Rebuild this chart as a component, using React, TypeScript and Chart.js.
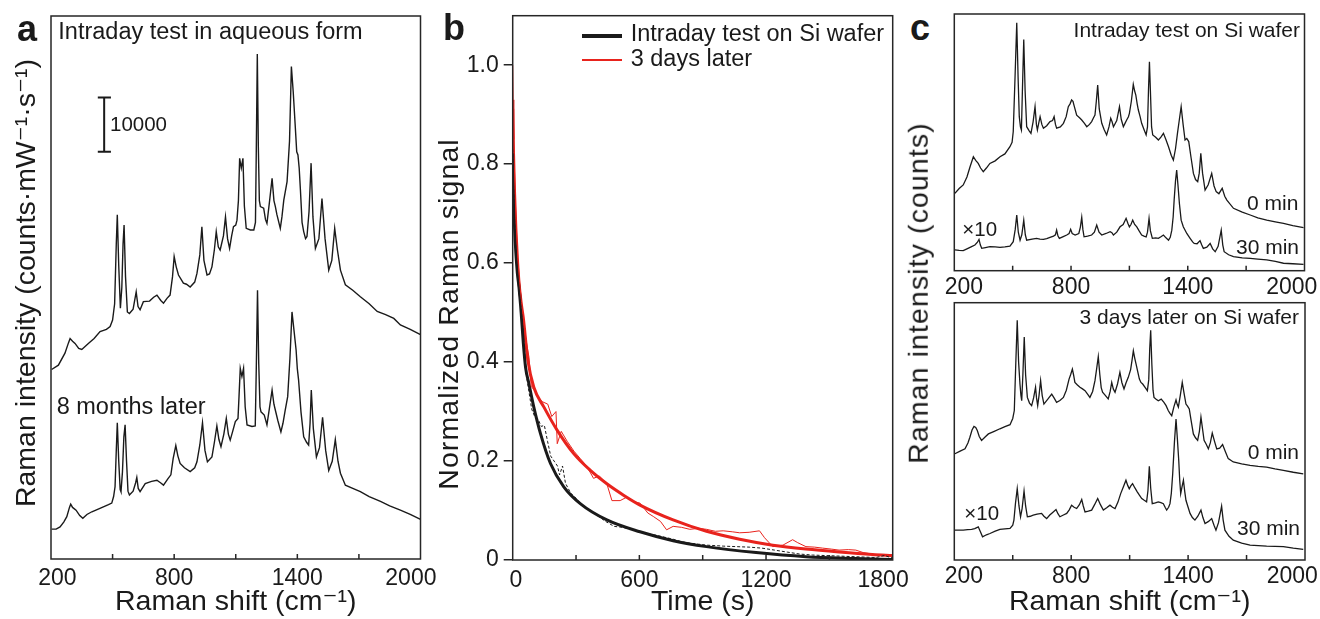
import React, { useEffect, useRef } from 'react';
import Chart from 'chart.js/auto';

const FONT = "'Liberation Sans', Arial, 'DejaVu Sans', sans-serif";
const INK = '#1a1a1a';
const FRAME = '#262626';
const RED = '#e8231d';

// ---------- Panel a : Raman spectra in aqueous form ----------
const SHIFT_TICKS = [200, 500, 800, 1100, 1400, 1700, 2000];
const SHIFT_LABELS = [200, 800, 1400, 2000];

const aIntraday: [number, number][] = [
  [203,34.9],[236,35.7],[268,37.9],[285,39.8],[293,40.6],[305,40.1],[317,39.7],[335,38.8],[350,38.6],[382,39.7],[410,40.6],[439,41.9],[470,42.3],[488,42.8],[500,44.0],[510,47.0],[518,58.0],[523,63.4],[530,54.0],[538,46.2],[545,50.0],[551,58.0],[556,61.5],[563,52.0],[572,45.5],[582,45.2],[600,46.0],[615,49.2],[624,46.5],[634,45.9],[650,47.4],[680,47.5],[700,48.2],[716,48.6],[735,47.6],[748,47.1],[765,48.0],[780,48.6],[792,52.0],[800,55.7],[810,53.8],[821,52.3],[845,50.8],[860,50.6],[878,50.1],[900,51.0],[911,52.6],[925,56.0],[935,61.2],[945,55.0],[960,52.3],[972,52.5],[984,53.8],[996,57.0],[1005,60.3],[1015,57.5],[1024,56.9],[1040,59.5],[1050,63.0],[1060,59.0],[1070,57.2],[1080,59.5],[1089,61.2],[1100,61.5],[1106,62.4],[1113,66.0],[1119,73.8],[1127,72.0],[1135,73.8],[1142,65.0],[1151,60.9],[1171,60.6],[1188,60.6],[1196,62.0],[1200,75.0],[1205,93.0],[1210,76.0],[1215,66.0],[1220,64.9],[1236,64.6],[1245,62.5],[1252,61.8],[1265,66.0],[1277,70.1],[1286,66.0],[1293,64.9],[1300,63.5],[1317,60.9],[1325,63.0],[1334,66.1],[1350,69.5],[1362,77.0],[1371,90.7],[1380,86.0],[1390,79.6],[1397,75.0],[1403,74.4],[1409,72.0],[1415,68.0],[1423,62.0],[1431,60.3],[1440,59.0],[1447,59.4],[1457,64.0],[1467,72.9],[1476,63.0],[1488,57.2],[1505,59.0],[1520,66.4],[1535,59.0],[1553,53.2],[1568,55.0],[1582,60.9],[1595,57.0],[1610,53.2],[1634,50.5],[1670,49.5],[1707,48.3],[1750,47.0],[1789,45.6],[1830,45.0],[1870,44.3],[1902,43.1],[1950,42.3],[2000,41.3],
];

const aEightMonths: [number, number][] = [
  [203,5.5],[225,5.5],[244,5.9],[262,6.8],[277,7.8],[290,9.5],[296,10.1],[305,9.5],[322,9.0],[340,8.0],[355,7.5],[375,8.2],[399,8.7],[430,9.2],[455,9.6],[480,10.0],[496,10.3],[505,11.5],[512,13.3],[518,20.0],[523,25.1],[530,18.0],[537,12.8],[541,12.4],[548,16.0],[555,22.5],[561,24.7],[568,18.0],[575,12.5],[582,11.8],[600,12.5],[612,14.0],[618,15.0],[625,13.0],[634,12.4],[659,13.9],[690,14.3],[716,14.5],[735,14.0],[748,13.6],[770,14.8],[784,15.5],[795,18.5],[808,20.9],[818,19.0],[829,17.6],[850,16.8],[878,16.1],[900,16.8],[911,17.9],[925,21.0],[938,25.1],[950,20.0],[962,17.9],[984,18.8],[996,21.5],[1008,24.5],[1018,22.0],[1028,20.7],[1042,23.0],[1054,25.9],[1064,23.0],[1073,21.9],[1085,23.5],[1098,25.3],[1111,25.9],[1116,30.0],[1122,35.1],[1130,33.6],[1138,35.1],[1146,28.0],[1155,24.7],[1179,24.4],[1195,24.5],[1200,35.0],[1206,49.5],[1212,36.0],[1218,28.0],[1223,27.1],[1239,26.5],[1252,24.7],[1265,28.0],[1277,31.1],[1286,28.5],[1293,27.4],[1305,25.5],[1320,23.4],[1330,25.0],[1341,27.4],[1353,29.9],[1364,37.0],[1374,45.5],[1384,42.0],[1394,38.5],[1400,35.0],[1406,33.0],[1418,27.0],[1431,22.5],[1445,21.5],[1455,21.0],[1462,25.0],[1468,31.1],[1478,24.0],[1493,18.8],[1508,20.5],[1523,26.1],[1538,20.0],[1553,16.3],[1570,18.0],[1585,22.0],[1598,18.0],[1610,15.8],[1634,13.6],[1670,13.0],[1707,12.4],[1750,11.5],[1805,10.6],[1850,9.8],[1902,9.0],[1950,8.2],[2000,7.3],
];

// scale bar: 10000 counts·mW⁻¹·s⁻¹ (y unit = 1000)
const aScaleBarShift = [428, 459, 492];
const aScaleBarRange = [75, 85];

// ---------- Panel b : normalized Raman signal vs time ----------
const TIME_TICKS = [0, 300, 600, 900, 1200, 1500, 1800];
const TIME_LABELS = [0, 600, 1200, 1800];
const SIGNAL_TICKS = [0, 0.2, 0.4, 0.6, 0.8, 1.0];

const bRawIntraday: [number, number][] = [
  [0,0.83],[5,0.74],[12,0.65],[20,0.59],[30,0.54],[42,0.50],[55,0.43],[66,0.37],[77,0.34],[90,0.305],[104,0.29],[120,0.285],[135,0.27],[150,0.272],[165,0.24],[180,0.21],[196,0.20],[212,0.19],[222,0.172],[236,0.19],[250,0.155],[275,0.135],[300,0.125],[330,0.11],[365,0.10],[400,0.09],[440,0.078],[480,0.068],[520,0.066],[560,0.062],[600,0.058],[640,0.053],[680,0.05],[720,0.046],[760,0.042],[800,0.037],[840,0.034],[880,0.032],[920,0.030],[960,0.029],[1000,0.028],[1060,0.027],[1120,0.026],[1180,0.024],[1240,0.020],[1300,0.016],[1360,0.012],[1420,0.010],[1480,0.009],[1540,0.008],[1600,0.007],[1660,0.006],[1720,0.005],[1760,0.009],[1800,0.004],
];
const bFitIntraday: [number, number][] = [
  [0,0.822],[4,0.74],[9,0.67],[15,0.62],[22,0.58],[30,0.55],[40,0.50],[50,0.44],[61,0.389],[77,0.356],[100,0.309],[132,0.255],[179,0.195],[242,0.148],[320,0.114],[446,0.081],[603,0.057],[760,0.039],[918,0.027],[1153,0.015],[1389,0.0067],[1625,0.003],[1800,0.001],
];
const bRawLater: [number, number][] = [
  [0,1.0],[2,0.93],[5,0.85],[10,0.76],[16,0.68],[24,0.61],[33,0.56],[42,0.52],[55,0.47],[65,0.44],[77,0.41],[88,0.35],[100,0.345],[119,0.33],[140,0.32],[166,0.315],[185,0.29],[205,0.30],[211,0.235],[230,0.26],[258,0.24],[290,0.22],[320,0.205],[350,0.19],[383,0.165],[410,0.17],[446,0.154],[470,0.12],[509,0.12],[540,0.127],[570,0.118],[603,0.115],[640,0.095],[666,0.088],[700,0.078],[729,0.061],[760,0.068],[800,0.066],[839,0.062],[880,0.064],[918,0.062],[960,0.058],[997,0.059],[1040,0.057],[1075,0.055],[1120,0.056],[1169,0.059],[1193,0.045],[1232,0.027],[1280,0.030],[1326,0.041],[1350,0.035],[1389,0.027],[1430,0.026],[1468,0.024],[1510,0.022],[1546,0.020],[1590,0.021],[1625,0.020],[1660,0.015],[1703,0.012],[1750,0.010],[1800,0.010],
];
const bFitLater: [number, number][] = [
  [0,0.912],[4,0.82],[9,0.74],[15,0.67],[22,0.61],[30,0.56],[40,0.52],[50,0.49],[72,0.403],[100,0.349],[148,0.309],[211,0.262],[289,0.215],[368,0.181],[446,0.154],[525,0.131],[603,0.111],[760,0.081],[918,0.058],[1075,0.042],[1232,0.030],[1389,0.022],[1546,0.016],[1703,0.011],[1800,0.009],
];

// ---------- Panel c : spectra on Si wafer ----------
const cIntraday0: [number, number][] = [
  [203,30.1],[225,32.0],[246,33.4],[265,36.5],[281,40.5],[298,44.4],[310,43.0],[323,41.8],[335,40.0],[349,38.6],[365,40.0],[383,41.8],[410,42.8],[435,44.4],[460,45.5],[486,48.3],[497,50.0],[503,54.2],[512,75.0],[521,96.6],[528,75.0],[534,60.0],[540,56.0],[545,54.8],[550,70.0],[557,90.1],[564,70.0],[572,56.1],[585,54.5],[594,53.5],[605,58.0],[615,63.9],[622,57.0],[627,54.8],[634,57.5],[641,60.0],[650,57.0],[658,55.5],[675,56.5],[692,58.1],[705,58.5],[713,60.0],[720,57.0],[726,55.5],[745,56.0],[761,57.4],[775,60.0],[786,63.9],[795,65.0],[803,66.5],[810,66.0],[815,64.5],[829,60.6],[845,59.5],[855,58.7],[868,57.5],[881,56.1],[895,57.0],[906,58.1],[915,59.5],[923,60.6],[930,66.0],[937,72.3],[945,63.0],[958,57.4],[970,55.0],[983,52.9],[995,56.0],[1004,59.4],[1011,58.0],[1018,56.1],[1035,58.5],[1049,63.9],[1058,59.0],[1069,56.1],[1078,57.5],[1086,58.7],[1095,60.0],[1100,61.3],[1110,66.0],[1120,72.6],[1127,70.0],[1133,68.4],[1140,65.0],[1146,62.6],[1155,60.0],[1163,57.4],[1175,55.0],[1186,52.9],[1193,56.0],[1198,70.0],[1203,81.4],[1208,70.0],[1214,56.0],[1220,52.9],[1235,52.0],[1249,50.9],[1262,52.0],[1275,53.5],[1288,51.0],[1301,48.3],[1315,45.0],[1326,43.1],[1337,47.5],[1347,53.5],[1357,59.0],[1366,63.9],[1376,57.0],[1386,50.9],[1395,51.5],[1405,50.3],[1417,44.0],[1429,37.9],[1440,35.5],[1451,34.7],[1459,38.0],[1467,45.7],[1476,38.0],[1489,31.4],[1505,33.5],[1523,37.9],[1535,33.0],[1546,30.8],[1560,30.0],[1577,32.1],[1590,29.0],[1601,27.5],[1635,24.3],[1680,22.8],[1721,21.7],[1760,20.6],[1806,19.7],[1850,19.0],[1892,18.4],[1940,17.6],[1995,16.8],
];
const cIntraday30: [number, number][] = [
  [203,8.1],[225,7.9],[246,7.8],[265,8.5],[289,9.4],[306,10.0],[318,11.0],[327,12.2],[334,10.0],[341,8.7],[360,9.0],[383,9.4],[410,9.3],[435,9.1],[460,9.3],[486,9.6],[503,11.3],[513,16.0],[521,21.7],[529,15.0],[538,11.9],[547,14.0],[557,19.7],[565,14.0],[572,11.9],[600,12.3],[623,12.6],[640,12.3],[658,12.2],[675,12.5],[692,13.0],[710,13.5],[720,14.0],[726,15.8],[733,13.5],[740,12.6],[760,13.3],[778,13.9],[790,14.5],[798,16.1],[806,14.5],[821,13.9],[840,14.5],[848,17.0],[855,20.8],[861,16.0],[867,13.2],[885,13.5],[906,13.9],[920,15.0],[932,17.8],[944,15.0],[958,13.9],[980,14.5],[1001,15.2],[1010,14.8],[1018,13.9],[1035,15.0],[1052,17.1],[1068,18.0],[1083,20.4],[1092,18.5],[1100,17.1],[1108,18.0],[1117,19.7],[1127,18.0],[1138,17.1],[1150,15.5],[1163,13.9],[1175,13.5],[1186,13.2],[1193,15.0],[1201,20.4],[1208,15.5],[1218,12.6],[1235,12.8],[1249,12.6],[1262,13.2],[1275,13.9],[1288,12.8],[1301,11.9],[1310,13.0],[1318,15.8],[1325,21.0],[1330,27.5],[1337,35.0],[1343,39.2],[1350,33.0],[1357,26.2],[1366,19.7],[1377,17.1],[1395,14.5],[1412,12.6],[1425,11.2],[1433,10.6],[1448,10.5],[1463,11.7],[1472,10.0],[1480,8.7],[1498,9.2],[1515,10.6],[1528,8.5],[1541,7.4],[1556,9.5],[1572,15.8],[1580,10.0],[1587,7.4],[1610,6.2],[1635,5.5],[1680,5.0],[1721,4.8],[1760,4.5],[1806,4.2],[1850,3.6],[1892,2.9],[1940,2.7],[1995,2.5],
];
const cLater0: [number, number][] = [
  [203,41.3],[230,42.3],[255,43.2],[270,45.5],[280,47.7],[291,50.5],[301,51.9],[310,51.5],[318,50.3],[328,48.0],[340,46.5],[358,47.8],[375,49.0],[405,50.0],[434,51.0],[460,51.8],[486,52.6],[500,55.0],[508,58.1],[515,75.0],[523,93.2],[530,77.0],[537,68.4],[542,64.0],[546,61.9],[552,72.0],[559,86.7],[566,72.0],[575,63.2],[586,61.0],[597,60.0],[607,63.0],[617,67.1],[622,63.0],[628,60.0],[635,64.0],[643,69.7],[651,64.0],[660,60.6],[680,62.5],[700,64.5],[712,63.0],[725,61.3],[742,62.0],[760,63.2],[775,66.0],[789,70.3],[797,72.0],[806,74.2],[812,72.0],[819,69.0],[832,68.0],[845,67.1],[858,66.5],[871,65.8],[884,64.5],[896,63.2],[910,65.5],[922,69.7],[930,74.0],[939,79.0],[947,72.0],[954,67.0],[961,65.2],[975,64.0],[990,62.6],[1000,65.5],[1008,69.0],[1016,66.5],[1025,65.2],[1038,68.5],[1050,72.9],[1060,69.0],[1071,66.5],[1082,69.0],[1093,71.0],[1105,74.0],[1112,77.5],[1119,81.3],[1126,78.5],[1133,76.1],[1142,73.0],[1150,70.3],[1158,69.0],[1167,68.4],[1180,67.0],[1191,65.8],[1198,70.0],[1203,82.0],[1208,89.3],[1214,76.0],[1220,66.0],[1225,63.2],[1236,62.5],[1247,61.9],[1262,62.5],[1276,61.3],[1287,60.0],[1298,58.1],[1307,57.0],[1316,56.1],[1327,59.5],[1338,62.2],[1344,60.5],[1350,59.4],[1360,64.0],[1370,69.0],[1380,64.5],[1389,60.6],[1397,59.8],[1406,58.7],[1416,54.0],[1427,49.0],[1438,47.5],[1449,46.5],[1458,50.0],[1466,55.5],[1474,51.0],[1482,46.5],[1493,45.0],[1504,43.2],[1514,45.5],[1524,49.3],[1536,46.0],[1547,43.2],[1562,43.5],[1577,44.9],[1592,42.0],[1606,39.4],[1632,38.1],[1675,37.4],[1718,36.8],[1760,36.4],[1803,36.1],[1846,35.4],[1889,34.8],[1940,34.1],[1991,33.5],
];
const cLater30: [number, number][] = [
  [203,11.6],[225,11.6],[246,11.6],[268,11.8],[289,11.9],[305,12.2],[323,12.9],[334,11.0],[345,9.0],[365,9.8],[383,10.3],[410,11.2],[434,11.9],[460,12.1],[486,12.3],[500,13.5],[506,15.5],[514,22.0],[523,27.7],[532,21.0],[540,16.8],[548,20.0],[558,26.8],[566,21.0],[575,16.8],[590,17.0],[605,17.4],[625,17.8],[648,18.1],[660,17.0],[674,16.1],[690,17.5],[705,18.5],[722,19.6],[732,18.0],[742,16.8],[760,17.5],[777,18.1],[790,19.5],[802,21.3],[815,20.5],[828,20.0],[842,21.5],[854,23.5],[862,21.0],[871,18.7],[888,19.0],[905,19.4],[920,21.5],[936,23.9],[950,21.5],[965,19.4],[982,20.3],[999,21.3],[1012,20.5],[1025,20.0],[1040,22.5],[1054,25.8],[1068,28.5],[1081,31.0],[1090,29.0],[1098,27.7],[1106,28.8],[1115,29.7],[1127,28.0],[1139,26.5],[1150,25.2],[1162,23.9],[1175,23.2],[1187,22.6],[1194,27.0],[1201,36.4],[1208,28.0],[1216,21.9],[1232,22.2],[1247,22.6],[1260,22.3],[1273,21.9],[1282,20.5],[1290,19.4],[1300,20.5],[1307,21.9],[1314,26.0],[1321,33.5],[1330,46.0],[1338,54.8],[1345,47.0],[1352,38.7],[1357,31.0],[1362,25.8],[1369,28.5],[1376,31.0],[1383,26.5],[1389,23.2],[1400,20.5],[1410,18.1],[1422,16.5],[1435,15.5],[1450,17.0],[1466,19.4],[1476,16.5],[1487,14.2],[1505,15.0],[1521,16.1],[1533,13.5],[1543,11.6],[1556,14.5],[1572,20.9],[1580,15.5],[1589,11.6],[1610,9.2],[1632,7.7],[1675,6.6],[1718,5.8],[1760,5.6],[1803,5.4],[1846,5.3],[1889,5.2],[1940,4.6],[1991,4.1],
];

// ---------- helpers ----------
const toXY = (arr: [number, number][]) => arr.map(([x, y]) => ({ x, y }));

const line = (data: [number, number][], color: string, width: number, extra: any = {}) => ({
  data: toXY(data),
  borderColor: color,
  borderWidth: width,
  pointRadius: 0,
  tension: 0,
  fill: false,
  ...extra,
});

const edgeLabel = (v: number, labels: number[], firstPad: number, lastPad: number) => {
  if (!labels.includes(v)) return '';
  if (v === labels[0]) return ' '.repeat(firstPad) + String(v);
  if (v === labels[labels.length - 1]) return String(v) + ' '.repeat(lastPad);
  return String(v);
};

const frame = (inner: number) => ({
  id: 'frameBox',
  afterDatasetsDraw(chart: any) {
    const { ctx, chartArea: a } = chart;
    const xs = chart.scales.x;
    ctx.save();
    ctx.strokeStyle = FRAME;
    ctx.lineWidth = 1.5;
    ctx.beginPath();
    for (const t of xs.ticks) {
      const px = xs.getPixelForValue(t.value);
      if (px <= a.left + 1 || px >= a.right - 1) continue;
      ctx.moveTo(px, a.bottom);
      ctx.lineTo(px, a.bottom - inner);
    }
    ctx.stroke();
    ctx.strokeRect(a.left, a.top, a.right - a.left, a.bottom - a.top);
    ctx.restore();
  },
});

const tickFont = { family: FONT, size: 23 };
const titleFont = { family: FONT, size: 28.5 };

function xAxis(o: {
  min: number; max: number; ticks: number[]; labels: number[]; height: number;
  pad: number; firstPad: number; lastPad: number; title?: string;
}) {
  return {
    type: 'linear',
    min: o.min,
    max: o.max,
    afterBuildTicks: (s: any) => { s.ticks = o.ticks.map((v) => ({ value: v })); },
    afterFit: (s: any) => { s.height = o.height; s.paddingLeft = 0; s.paddingRight = 0; },
    grid: { display: false },
    border: { display: false },
    ticks: {
      autoSkip: false,
      maxRotation: 0,
      padding: o.pad,
      color: INK,
      font: tickFont,
      callback: (v: number) => edgeLabel(v, o.labels, o.firstPad, o.lastPad),
    },
    title: o.title
      ? { display: true, text: o.title, color: INK, font: titleFont, padding: { top: 0, bottom: 0 } }
      : { display: false },
  };
}

function spectrumConfig(datasets: any[], o: {
  padding: any; xHeight: number; pad: number; firstPad: number; lastPad: number; xTitle?: string;
}) {
  return {
    type: 'line',
    data: { datasets },
    options: {
      animation: false,
      responsive: true,
      maintainAspectRatio: false,
      events: [],
      layout: { padding: o.padding },
      plugins: { legend: { display: false }, tooltip: { enabled: false } },
      scales: {
        x: xAxis({
          min: 200, max: 2000, ticks: SHIFT_TICKS, labels: SHIFT_LABELS, height: o.xHeight,
          pad: o.pad, firstPad: o.firstPad, lastPad: o.lastPad, title: o.xTitle,
        }),
        y: { type: 'linear', min: 0, max: 100, display: false },
      },
    },
    plugins: [frame(5)],
  };
}

function ChartBox({ left, top, width, height, make }: {
  left: number; top: number; width: number; height: number; make: () => any;
}) {
  const ref = useRef<HTMLCanvasElement>(null);
  useEffect(() => {
    const chart = new Chart(ref.current as HTMLCanvasElement, make());
    return () => chart.destroy();
  }, []);
  return (
    <div style={{ position: 'absolute', left, top, width, height }}>
      <canvas ref={ref} />
    </div>
  );
}

function Txt({ x, y, size, children, align = 'left', bold = false }: any) {
  const style: any = {
    position: 'absolute',
    top: y - 0.8465 * size,
    fontSize: size,
    lineHeight: `${size}px`,
    fontFamily: FONT,
    color: INK,
    whiteSpace: 'nowrap',
    fontWeight: bold ? 'bold' : 'normal',
  };
  if (align === 'left') style.left = x;
  else style.right = 1320 - x;
  return <div style={style}>{children}</div>;
}

function VTitle({ cx, cy, size, spacing = 0, children }: any) {
  return (
    <div
      style={{
        position: 'absolute',
        left: cx,
        top: cy,
        transform: 'translate(-50%, -50%) rotate(-90deg)',
        fontSize: size,
        lineHeight: `${size}px`,
        fontFamily: FONT,
        color: INK,
        whiteSpace: 'nowrap',
        letterSpacing: spacing,
      }}
    >
      {children}
    </div>
  );
}

// ---------- chart configs ----------
const makeA = () => {
  const [c0, c1, c2] = aScaleBarShift;
  const [r0, r1] = aScaleBarRange;
  return spectrumConfig(
    [
      line(aIntraday, INK, 1.4),
      line(aEightMonths, INK, 1.4),
      line([[c1, r0], [c1, r1]], INK, 2),
      line([[c0, r0], [c2, r0]], INK, 2),
      line([[c0, r1], [c2, r1]], INK, 2),
    ],
    { padding: { left: 51, top: 16, right: 29.5, bottom: 0 }, xHeight: 60, pad: -2.5, firstPad: 2, lastPad: 3, xTitle: 'Raman shift (cm⁻¹)' },
  );
};

const makeB = () => ({
  type: 'line',
  data: {
    datasets: [
      line(bRawIntraday, INK, 1, { borderDash: [3, 2] }),
      line(bRawLater, RED, 1),
      line(bFitIntraday, INK, 3, { cubicInterpolationMode: 'monotone' }),
      line(bFitLater, RED, 3, { cubicInterpolationMode: 'monotone' }),
    ],
  },
  options: {
    animation: false,
    responsive: true,
    maintainAspectRatio: false,
    events: [],
    layout: { padding: { left: 0, top: 15.7, right: 15.3, bottom: 0 } },
    plugins: { legend: { display: false }, tooltip: { enabled: false } },
    scales: {
      x: xAxis({
        min: 0, max: 1800, ticks: TIME_TICKS, labels: TIME_LABELS, height: 59,
        pad: -1, firstPad: 1, lastPad: 3, title: 'Time (s)',
      }),
      y: {
        type: 'linear',
        min: 0,
        max: 1.1,
        afterBuildTicks: (s: any) => { s.ticks = SIGNAL_TICKS.map((v) => ({ value: v })); },
        afterFit: (s: any) => { s.width = 84.7; s.paddingTop = 0; s.paddingBottom = 0; },
        grid: { display: true, drawOnChartArea: false, drawTicks: true, tickLength: 9, color: FRAME, lineWidth: 1.5 },
        border: { display: false },
        ticks: {
          padding: 5,
          color: INK,
          font: tickFont,
          callback: (v: number) => (v === 0 ? '0' : v.toFixed(1)),
        },
      },
    },
  },
  plugins: [frame(5)],
});

const makeC1 = () =>
  spectrumConfig(
    [line(cIntraday0, INK, 1.3), line(cIntraday30, INK, 1.3)],
    { padding: { left: 14.3, top: 14, right: 15.5, bottom: 0 }, xHeight: 29.3, pad: -4.5, firstPad: 3, lastPad: 4 },
  );

const makeC2 = () =>
  spectrumConfig(
    [line(cLater0, INK, 1.3), line(cLater30, INK, 1.3)],
    { padding: { left: 14.3, top: 12.7, right: 15, bottom: 0 }, xHeight: 59, pad: -5.5, firstPad: 3, lastPad: 4, xTitle: 'Raman shift (cm⁻¹)' },
  );

export default function App() {
  return (
    <div
      style={{
        position: 'fixed',
        left: 0,
        top: 0,
        width: 1320,
        height: 619,
        background: '#ffffff',
        overflow: 'hidden',
        fontFamily: FONT,
      }}
    >
      <ChartBox left={0} top={0} width={450} height={619} make={makeA} />
      <ChartBox left={428} top={0} width={480} height={619} make={makeB} />
      <ChartBox left={940} top={0} width={380} height={300} make={makeC1} />
      <ChartBox left={940} top={290} width={380} height={329} make={makeC2} />

      {/* panel letters */}
      <Txt x={17} y={41} size={36} bold>a</Txt>
      <Txt x={443} y={40} size={36} bold>b</Txt>
      <Txt x={910} y={40} size={36} bold>c</Txt>

      {/* y-axis titles */}
      <VTitle cx={25.1} cy={282.5} size={28.5}>Raman intensity (counts·mW⁻¹·s⁻¹)</VTitle>
      <VTitle cx={447.8} cy={314} size={28.5} spacing={1.1}>Normalized Raman signal</VTitle>
      <VTitle cx={918.4} cy={293.3} size={28.5} spacing={1.1}>Raman intensity (counts)</VTitle>

      {/* panel a annotations */}
      <Txt x={58.3} y={40} size={23.5}>Intraday test in aqueous form</Txt>
      <Txt x={56.7} y={415} size={23.5}>8 months later</Txt>
      <Txt x={110} y={131.7} size={20.5}>10000</Txt>

      {/* panel b legend */}
      <div style={{ position: 'absolute', left: 581.7, top: 34, width: 40, height: 3.5, background: INK }} />
      <div style={{ position: 'absolute', left: 581.7, top: 59.3, width: 40, height: 2, background: RED }} />
      <Txt x={630.7} y={42.3} size={23.5}>Intraday test on Si wafer</Txt>
      <Txt x={630.7} y={67.3} size={23.5}>3 days later</Txt>

      {/* panel c annotations */}
      <Txt x={1300} y={36.7} size={21} align="right">Intraday test on Si wafer</Txt>
      <Txt x={1298.3} y={210} size={21} align="right">0 min</Txt>
      <Txt x={1299} y={253.3} size={21} align="right">30 min</Txt>
      <Txt x={962.3} y={236.7} size={20.5}>×10</Txt>
      <Txt x={1299} y={323.3} size={21} align="right">3 days later on Si wafer</Txt>
      <Txt x={1299} y={458.3} size={21} align="right">0 min</Txt>
      <Txt x={1300} y={535} size={21} align="right">30 min</Txt>
      <Txt x={964.3} y={520} size={20.5}>×10</Txt>
    </div>
  );
}
